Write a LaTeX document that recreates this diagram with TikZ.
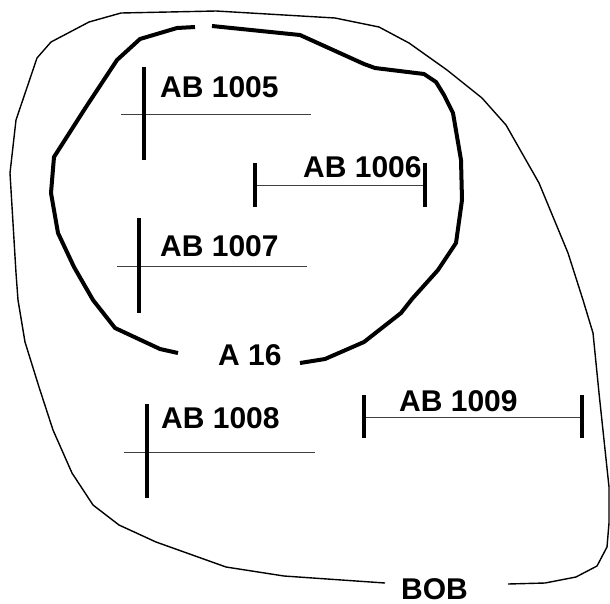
\documentclass[tikz,border=0pt]{standalone}
\usepackage{fontspec}
\setmainfont{Liberation Sans}
\begin{document}
\begin{tikzpicture}[x=1pt, y=-1pt, line join=round,
    label/.style={anchor=west, inner sep=0pt, font=\fontsize{30}{34}\selectfont\bfseries},
    bar/.style={line width=4pt},
    tick/.style={line width=1pt, black!75},
    thickloop/.style={line width=4pt},
    thinloop/.style={line width=1.4pt}]
    \useasboundingbox (0,0) rectangle (610,603);

    % Outer loop (BOB)
    \draw[thinloop] (385,583) -- (284,576) -- (226,567) -- (156,542) -- (119,525)
        -- (93,505) -- (72,473) -- (53,430) -- (39,387) -- (25,342) -- (18,300)
        -- (16,273) -- (10,173) -- (16,120) -- (37,58) -- (51,42) -- (89,22)
        -- (121,13) -- (216,11) -- (335,18) -- (379,27) -- (409,43) -- (447,70)
        -- (482,98) -- (506,125) -- (539,183) -- (568,253) -- (583,300)
        -- (593,333) -- (599,393) -- (609,487) -- (609,523) -- (607,547)
        -- (597,566) -- (576,577) -- (545,583) -- (508,584);

    % Inner loop (A 16)
    \draw[thickloop] (195,27) -- (177,28) -- (140,39) -- (117,60) -- (86,107)
        -- (54,157) -- (51,193) -- (58,233) -- (74,267) -- (93,300) -- (115,328)
        -- (160,349) -- (178,353);
    \draw[thickloop] (300,363) -- (325,359) -- (364,342) -- (401,313) -- (412,299)
        -- (438,270) -- (456,243) -- (462,200) -- (461,160) -- (453,113)
        -- (444,95) -- (436,82) -- (424,74) -- (375,68) -- (364,64) -- (300,35)
        -- (212,26);

    % Labels
    \node[label] (ab1005) at (160,87) {AB 1005};
    \node[label] (ab1006) at (303,167) {AB 1006};
    \node[label] (ab1007) at (160,246) {AB 1007};
    \node[label] (ab1008) at (161,418) {AB 1008};
    \node[label] (ab1009) at (399,401) {AB 1009};
    \node[label] (a16) at (218,355) {A 16};
    \node[label] (bob) at (401,589) {BOB};

    % AB 1005
    \draw[tick] (121,114) -- (311,114);
    \draw[bar] (144,67) -- (144,160);

    % AB 1006
    \draw[tick] (255,185) -- (425,185);
    \draw[bar] (255,163) -- (255,207);
    \draw[bar] (425,163) -- (425,207);

    % AB 1007
    \draw[tick] (117,266) -- (307,266);
    \draw[bar] (139,218) -- (139,313);

    % AB 1008
    \draw[tick] (124,452) -- (315,452);
    \draw[bar] (147,404) -- (147,498);

    % AB 1009
    \draw[tick] (364,417) -- (582,417);
    \draw[bar] (364,395) -- (364,438);
    \draw[bar] (582,395) -- (582,438);
\end{tikzpicture}
\end{document}
